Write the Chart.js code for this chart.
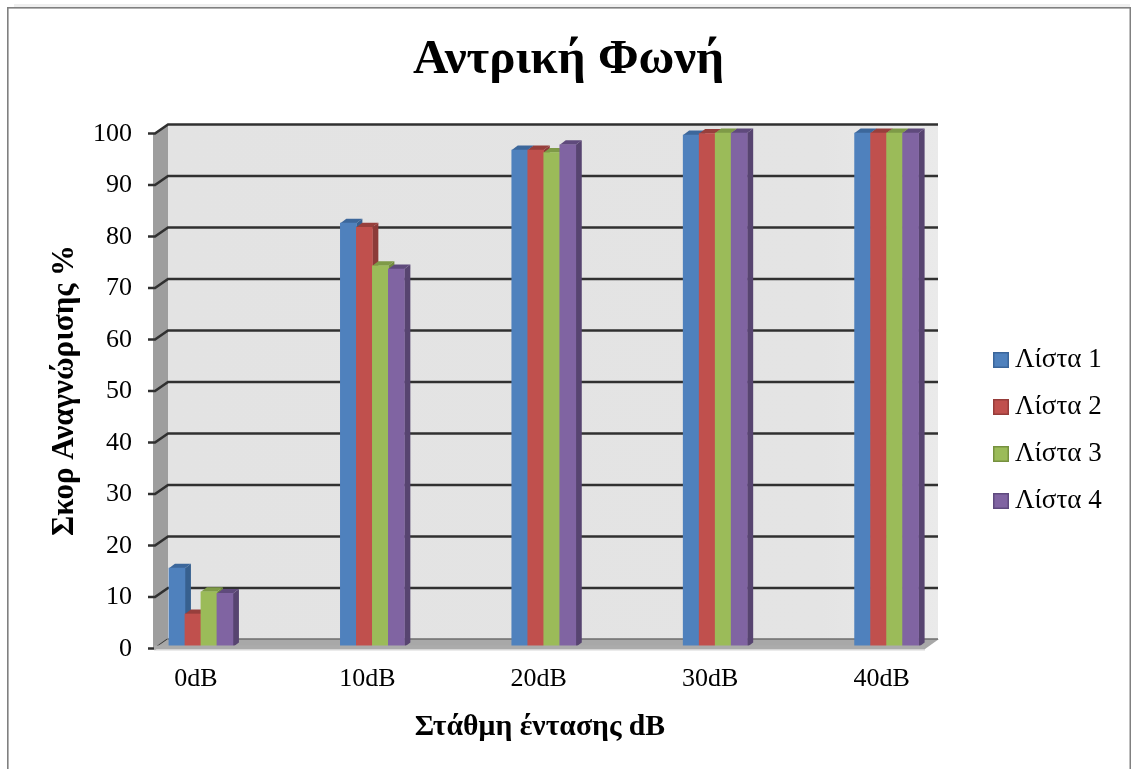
<!DOCTYPE html>
<html><head><meta charset="utf-8">
<style>html,body{margin:0;padding:0;background:#fff}canvas{display:block;filter:blur(0.5px)}#w{width:1131px;height:769px}</style>
<script src="https://cdn.jsdelivr.net/npm/chart.js@4"></script>
</head><body><div id="w"><canvas id="c" width="1131" height="769"></canvas></div>
<script>
const categories=['0dB','10dB','20dB','30dB','40dB'];
const seriesNames=['Λίστα 1','Λίστα 2','Λίστα 3','Λίστα 4'];
const lista1=[15.5,82.5,96.7,99.6,100];
const lista2=[6.6,81.7,96.7,99.9,100];
const lista3=[10.9,74.2,96.2,100,100];
const lista4=[10.6,73.6,97.7,100,100];
const yTicks=[0,10,20,30,40,50,60,70,80,90,100];
const chartTitle='Αντρική Φωνή';
const xTitle='Στάθμη έντασης dB';
const yTitle='Σκορ Αναγνώρισης %';
const fills=['#4F81BD','#C0504D','#9BBB59','#8064A2'];
const tops=['#3C679B','#973F3C','#7E9A47','#5F4A7C'];
const sides=['#37608F','#8C3A38','#728C40','#574470'];
const edges=['#3A659A','#963C3A','#76913F','#5F4A7E'];
const FONT='"Liberation Serif","Times New Roman",serif';
const WALL_DX=13,WALL_DY=9,BAR_DX=6,BAR_DY=4.5,FLOOR_Y=645;

function poly(ctx,pts,fill){ctx.beginPath();pts.forEach((p,i)=>i?ctx.lineTo(p[0],p[1]):ctx.moveTo(p[0],p[1]));ctx.closePath();ctx.fillStyle=fill;ctx.fill();}
function swatch(i){const s=document.createElement('canvas');s.width=16;s.height=16;const c=s.getContext('2d');
 c.fillStyle=edges[i];c.fillRect(0,0,16,16);c.fillStyle=fills[i];c.fillRect(1.5,1.5,13,13);return s;}

const scene={id:'scene',
 beforeLayout(chart){
  const l=chart.legend;
  if(!l._wrapped){const f=l.fit;l.fit=function(){f.call(this);this.width=206;};l._wrapped=true;}
 },
 afterLayout(chart){
  const l=chart.legend;l.left=980.5;l.right=1131;l.top=0;l.bottom=861;
  const t=chart.titleBlock;t.left=6;t.right=1131;
 },
 beforeDraw(chart){
  const c=chart.ctx;c.save();
  c.fillStyle='#fff';c.fillRect(0,0,chart.width,chart.height);
  c.fillStyle='#EFEFEF';c.fillRect(14,4,1116,3);
  c.fillStyle='#808080';c.fillRect(7,7,1124,1.6);c.fillRect(7,7,1.6,762);c.fillRect(1129.5,7,1.6,762);
  c.restore();
 },
 beforeDatasetsDraw(chart){
  const c=chart.ctx,a=chart.chartArea,y=chart.scales.y;c.save();
  const y0=y.getPixelForValue(0),y1=y.getPixelForValue(100);
  const g=c.createLinearGradient(a.left+WALL_DX,0,a.right+WALL_DX,0);g.addColorStop(0,'#E3E3E3');g.addColorStop(.85,'#E4E4E4');g.addColorStop(1,'#EAEAEA');
  c.fillStyle=g;c.fillRect(a.left+WALL_DX,y1-WALL_DY,a.right-a.left,y0-y1);
  poly(c,[[a.left-2,y1+1],[a.left+WALL_DX,y1-WALL_DY],[a.left+WALL_DX,y0-WALL_DY],[a.left-2,y0]],'#9E9E9E');
  c.strokeStyle='#303030';c.lineWidth=2.6;
  yTicks.forEach(v=>{const p=y.getPixelForValue(v);
   c.beginPath();c.moveTo(a.left-7,p+.5);c.lineTo(a.left,p+.5);c.lineTo(a.left+WALL_DX,p-WALL_DY+.5);
   if(v>0)c.lineTo(a.right+WALL_DX,p-WALL_DY+.5);
   c.stroke();});
  poly(c,[[a.left,y0],[a.left+WALL_DX,y0-WALL_DY],[a.right+WALL_DX+1,y0-WALL_DY],[a.right,y0+1]],'#A8A8A8');
  c.strokeStyle='#6E6E6E';c.lineWidth=1.6;c.beginPath();c.moveTo(a.left+WALL_DX,y0-WALL_DY);c.lineTo(a.right+WALL_DX,y0-WALL_DY);c.stroke();
  c.restore();
 },
 beforeDatasetDraw(){return false;},
 afterDatasetsDraw(chart){
  const c=chart.ctx,a=chart.chartArea,y=chart.scales.y;c.save();
  chart.data.datasets.forEach((ds,d)=>{
   const meta=chart.getDatasetMeta(d);
   meta.data.forEach(b=>{
    const L=b.x-b.width/2,R=b.x+b.width/2,T=b.y,B=FLOOR_Y+2;
    poly(c,[[R,T],[R+BAR_DX,T-BAR_DY],[R+BAR_DX,B-BAR_DY],[R,B]],sides[d]);
    poly(c,[[L,T],[L+BAR_DX,T-BAR_DY],[R+BAR_DX,T-BAR_DY],[R,T]],tops[d]);
   });
   meta.controller.draw();
  });
  const y0=y.getPixelForValue(0);
  c.fillStyle='#ABABAB';c.fillRect(a.left-1,FLOOR_Y+.5,a.right-a.left+1,y0-FLOOR_Y+1);
  c.fillStyle='#D8D8D8';c.fillRect(a.left-1,y0+1.5,a.right-a.left+1,1);
  c.restore();
 }
};

new Chart(document.getElementById('c'),{
 type:'bar',
 data:{datasets:seriesNames.map((n,i)=>({
   label:n,
   data:[lista1,lista2,lista3,lista4][i].map((v,k)=>({x:k,y:v})),
   backgroundColor:fills[i],borderColor:edges[i],borderWidth:0,barThickness:16}))},
 plugins:[scene],
 options:{responsive:false,animation:false,
  layout:{autoPadding:false,padding:0},
  plugins:{
   tooltip:{enabled:false},
   title:{display:true,text:chartTitle,color:'#000',font:{family:FONT,size:49,weight:'bold',lineHeight:1.2},padding:{top:30.6,bottom:43.6}},
   legend:{display:true,position:'right',align:'center',
    labels:{font:{family:FONT,size:27},color:'#000',usePointStyle:true,pointStyleWidth:1,boxHeight:16,padding:20,
     generateLabels(chart){return Chart.defaults.plugins.legend.labels.generateLabels(chart).map((it,i)=>Object.assign(it,{pointStyle:swatch(i)}));}}}
  },
  scales:{
   x:{type:'linear',min:-0.268,max:4.224,offset:false,position:'bottom',
    grid:{display:false,drawTicks:false},border:{display:false},
    afterFit(s){s.height=121;},
    ticks:{stepSize:1,includeBounds:false,autoSkip:false,maxRotation:0,padding:16,labelOffset:-5,color:'#000',font:{family:FONT,size:26},
     callback:v=>categories[v]??''},
    title:{display:true,text:xTitle,color:'#000',font:{family:FONT,size:29.7,weight:'bold',lineHeight:1.2},padding:{top:0,bottom:24.2}}},
   y:{min:0,max:100,position:'left',
    grid:{display:false,drawTicks:false},border:{display:false},
    afterFit(s){s.width=155;},
    ticks:{stepSize:10,padding:23,labelOffset:1,color:'#000',font:{family:FONT,size:26}},
    title:{display:true,text:yTitle,color:'#000',font:{family:FONT,size:31,weight:'bold',lineHeight:1.2},padding:{top:46,bottom:0}}}
  }
 }
});
</script></body></html>
